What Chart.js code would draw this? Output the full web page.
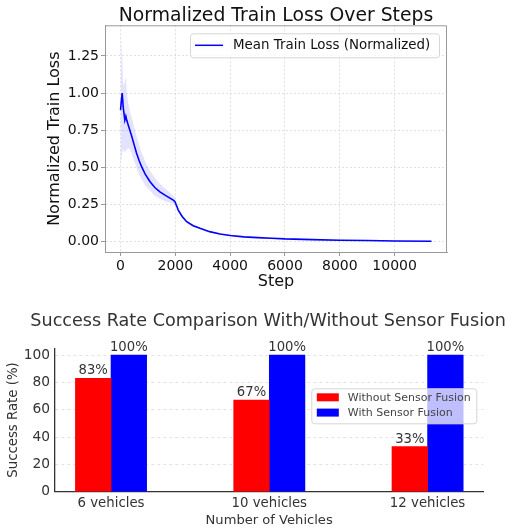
<!DOCTYPE html>
<html>
<head>
<meta charset="utf-8">
<script src="https://cdn.jsdelivr.net/npm/chart.js@4/dist/chart.umd.min.js"></script>
<style>
	html, body { margin: 0; padding: 0; background: #fff; }
	#wrap { position: relative; width: 512px; height: 529px; overflow: hidden; }
	canvas { position: absolute; left: 0; }
	#loss_chart { top: 0; }
	#rate_chart { top: 300px; }
</style>
</head>
<body>
<div id="wrap">
	<canvas id="loss_chart" width="512" height="300"></canvas>
	<canvas id="rate_chart" width="512" height="229"></canvas>
</div>
<script>
// Train loss (top chart)
const lossSteps = [0, 30, 60, 100, 157, 194, 230, 280, 340, 400, 500, 585, 680, 768, 900, 1071, 1250, 1437, 1650, 1924, 1985, 2050, 2106, 2250, 2413, 2650, 2900, 3250, 3630, 4000, 4500, 5000, 5500, 6000, 7000, 8000, 9000, 10000, 11345];
const lossMean  = [0.885, 0.95, 1.0, 0.90, 0.818, 0.845, 0.815, 0.785, 0.75, 0.715, 0.65, 0.595, 0.545, 0.505, 0.455, 0.405, 0.365, 0.335, 0.31, 0.28, 0.27, 0.24, 0.213, 0.17, 0.135, 0.108, 0.09, 0.068, 0.052, 0.042, 0.033, 0.028, 0.024, 0.019, 0.014, 0.010, 0.008, 0.005, 0.003];
const lossUpper = [0.90, 1.38, 1.25, 1.05, 1.08, 1.11, 1.00, 0.93, 0.88, 0.84, 0.77, 0.71, 0.65, 0.60, 0.54, 0.48, 0.43, 0.39, 0.355, 0.31, 0.295, 0.255, 0.225, 0.18, 0.143, 0.115, 0.096, 0.073, 0.056, 0.046, 0.036, 0.031, 0.027, 0.022, 0.017, 0.013, 0.011, 0.008, 0.006];
const lossLower = [0.50, 0.55, 0.60, 0.62, 0.60, 0.61, 0.62, 0.63, 0.62, 0.60, 0.54, 0.50, 0.45, 0.42, 0.38, 0.345, 0.31, 0.29, 0.27, 0.255, 0.248, 0.225, 0.20, 0.16, 0.127, 0.101, 0.084, 0.063, 0.048, 0.038, 0.030, 0.025, 0.021, 0.016, 0.011, 0.007, 0.005, 0.002, 0.000];
const lossTicksX = [0, 2000, 4000, 6000, 8000, 10000];
const lossTicksY = [0, 0.25, 0.5, 0.75, 1.0, 1.25];

// Success rate (bottom chart)
const vehicleLabels = ['6 vehicles', '10 vehicles', '12 vehicles'];
const rateWithout = [83, 67, 33];
const rateWith = [100, 100, 100];
const rateTicksY = [0, 20, 40, 60, 80, 100];

const FONT = "'DejaVu Sans', sans-serif";
Chart.defaults.font.family = FONT;
Chart.defaults.animation = false;

function toPoints(xs, ys) {
	return xs.map((x, i) => ({ x: x, y: ys[i] }));
}
function roundBox(ctx, x, y, w, h, r) {
	ctx.beginPath();
	ctx.moveTo(x + r, y);
	ctx.arcTo(x + w, y, x + w, y + h, r);
	ctx.arcTo(x + w, y + h, x, y + h, r);
	ctx.arcTo(x, y + h, x, y, r);
	ctx.arcTo(x, y, x + w, y, r);
	ctx.closePath();
}

// grey frame on top/right of the loss plot (left/bottom come from the axis borders)
const lossFrame = {
	id: 'lossFrame',
	afterDraw(chart) {
		const a = chart.chartArea, ctx = chart.ctx;
		ctx.save();
		ctx.strokeStyle = '#999';
		ctx.lineWidth = 1;
		ctx.beginPath();
		ctx.moveTo(a.left, a.top + 0.5);
		ctx.lineTo(a.right - 0.5, a.top + 0.5);
		ctx.lineTo(a.right - 0.5, a.bottom);
		ctx.stroke();
		ctx.restore();
	}
};

// legend box in the top right corner of the loss plot
const lossLegend = {
	id: 'lossLegend',
	afterDatasetsDraw(chart) {
		const a = chart.chartArea, ctx = chart.ctx;
		const ds = chart.data.datasets[2];
		const w = 249, h = 24;
		const x = a.right - 8 - w, y = a.top + 8;
		ctx.save();
		roundBox(ctx, x + 0.5, y + 0.5, w, h, 3);
		ctx.fillStyle = 'rgba(255,255,255,0.8)';
		ctx.fill();
		ctx.strokeStyle = '#d6d6d6';
		ctx.lineWidth = 1;
		ctx.stroke();
		ctx.beginPath();
		ctx.moveTo(x + 5, y + h / 2);
		ctx.lineTo(x + 33, y + h / 2);
		ctx.strokeStyle = ds.borderColor;
		ctx.lineWidth = 1.5;
		ctx.stroke();
		ctx.fillStyle = '#111';
		ctx.font = '13.4px ' + FONT;
		ctx.textBaseline = 'middle';
		ctx.fillText(ds.label, x + 43, y + h / 2 + 0.5);
		ctx.restore();
	}
};

new Chart(document.getElementById('loss_chart'), {
	type: 'line',
	data: {
		datasets: [
			{ // lower edge of the spread band
				data: toPoints(lossSteps, lossLower),
				borderColor: 'transparent',
				borderWidth: 0,
				pointRadius: 0,
				fill: false
			}, { // upper edge, filled down to the lower edge
				data: toPoints(lossSteps, lossUpper),
				borderColor: 'transparent',
				borderWidth: 0,
				pointRadius: 0,
				fill: '-1',
				backgroundColor: 'rgba(0, 0, 255, 0.11)'
			}, {
				label: 'Mean Train Loss (Normalized)',
				data: toPoints(lossSteps, lossMean),
				borderColor: '#0000ff',
				borderWidth: 1.6,
				pointRadius: 0,
				fill: false
			}
		]
	},
	options: {
		responsive: false,
		layout: { padding: { left: 0, right: 65, top: 0, bottom: 0 } },
		plugins: {
			legend: { display: false },
			tooltip: { enabled: false },
			title: {
				display: true,
				text: 'Normalized Train Loss Over Steps',
				fullSize: false,
				color: '#111',
				font: { size: 18.8, weight: 'normal', lineHeight: 1 },
				padding: { top: 6.5, bottom: 0 }
			}
		},
		scales: {
			x: {
				type: 'linear',
				min: -567,
				max: 11912,
				afterBuildTicks: (s) => { s.ticks = lossTicksX.map(v => ({ value: v })); },
				afterFit: (s) => { s.height = 48; },
				ticks: {
					color: '#111',
					font: { size: 14 },
					padding: 2,
					maxRotation: 0,
					callback: (v) => String(v)
				},
				grid: { color: '#d9d9d9', lineWidth: 0.8, tickColor: '#999', tickLength: 4, tickWidth: 1 },
				border: { color: '#999', width: 1, dash: [2, 2] },
				title: { display: true, text: 'Step', color: '#111', font: { size: 16 }, padding: { top: 0, bottom: 9 } }
			},
			y: {
				type: 'linear',
				min: -0.069,
				max: 1.456,
				afterBuildTicks: (s) => { s.ticks = lossTicksY.map(v => ({ value: v })); },
				afterFit: (s) => { s.width = 105; },
				ticks: {
					color: '#111',
					font: { size: 14 },
					padding: 2,
					callback: (v) => v.toFixed(2)
				},
				grid: { color: '#d9d9d9', lineWidth: 0.8, tickColor: '#999', tickLength: 4, tickWidth: 1 },
				border: { color: '#999', width: 1, dash: [2, 2] },
				title: { display: true, text: 'Normalized Train Loss', color: '#111', font: { size: 16 }, padding: { top: 45, bottom: 0 } }
			}
		}
	},
	plugins: [lossFrame, lossLegend]
});

// bottom chart title: wider than the plot, so drawn here instead of the title plugin (which squeezes it)
const rateTitle = {
	id: 'rateTitle',
	afterDraw(chart) {
		const a = chart.chartArea, ctx = chart.ctx;
		ctx.save();
		ctx.font = '17.6px ' + FONT;
		ctx.fillStyle = '#333';
		ctx.textAlign = 'center';
		ctx.textBaseline = 'alphabetic';
		ctx.fillText('Success Rate Comparison With/Without Sensor Fusion', (a.left + a.right) / 2 - 1, 26);
		ctx.restore();
	}
};

// percent labels above each bar
const barValueLabels = {
	id: 'barValueLabels',
	afterDatasetsDraw(chart) {
		const ctx = chart.ctx;
		ctx.save();
		ctx.font = '13.2px ' + FONT;
		ctx.fillStyle = '#333';
		ctx.textAlign = 'center';
		ctx.textBaseline = 'alphabetic';
		chart.data.datasets.forEach((ds, di) => {
			chart.getDatasetMeta(di).data.forEach((bar, i) => {
				ctx.fillText(`${ds.data[i].y}%`, bar.x, bar.y - 4);
			});
		});
		ctx.restore();
	}
};

// semi-transparent legend box, drawn over the bars like matplotlib does
const rateLegend = {
	id: 'rateLegend',
	afterDatasetsDraw(chart) {
		const a = chart.chartArea, ctx = chart.ctx;
		const w = 165, h = 35;
		const x = a.right - 7 - w, y = a.top + 40;
		ctx.save();
		roundBox(ctx, x + 0.5, y + 0.5, w, h, 3);
		ctx.fillStyle = 'rgba(255,255,255,0.75)';
		ctx.fill();
		ctx.strokeStyle = '#d6d6d6';
		ctx.lineWidth = 1;
		ctx.stroke();
		ctx.font = '11px ' + FONT;
		ctx.textBaseline = 'middle';
		chart.data.datasets.forEach((ds, i) => {
			const cy = y + 9 + i * 15.3;
			ctx.fillStyle = ds.backgroundColor;
			ctx.fillRect(x + 5.5, cy - 4, 22, 8);
			ctx.fillStyle = '#444';
			ctx.fillText(ds.label, x + 36.5, cy + 0.5);
		});
		ctx.restore();
	}
};

new Chart(document.getElementById('rate_chart'), {
	type: 'bar',
	data: {
		datasets: [
			{
				label: 'Without Sensor Fusion',
				data: vehicleLabels.map((_, i) => ({ x: i, y: rateWithout[i] })),
				backgroundColor: '#ff0000',
				barThickness: 35.6
			}, {
				label: 'With Sensor Fusion',
				data: vehicleLabels.map((_, i) => ({ x: i, y: rateWith[i] })),
				backgroundColor: '#0000ff',
				barThickness: 35.6
			}
		]
	},
	options: {
		responsive: false,
		layout: { padding: { left: 0, right: 28.7, top: 48.3, bottom: 0 } },
		plugins: {
			legend: { display: false },
			tooltip: { enabled: false },
			title: { display: false }
		},
		scales: {
			x: {
				type: 'linear',
				min: -0.354,
				max: 2.352,
				offset: false,
				afterBuildTicks: (s) => { s.ticks = vehicleLabels.map((_, i) => ({ value: i })); },
				afterFit: (s) => { s.height = 37.3; },
				ticks: {
					color: '#333',
					font: { size: 13.3 },
					padding: 4,
					maxRotation: 0,
					callback: (v) => vehicleLabels[v]
				},
				grid: { display: false, offset: false, drawTicks: false },
				border: { color: '#333', width: 1.3 },
				title: { display: true, text: 'Number of Vehicles', color: '#333', font: { size: 13.1 }, padding: { top: 0, bottom: 1 } }
			},
			y: {
				type: 'linear',
				min: 0,
				max: 105,
				afterBuildTicks: (s) => { s.ticks = rateTicksY.map(v => ({ value: v })); },
				afterFit: (s) => { s.width = 55; },
				ticks: {
					color: '#333',
					font: { size: 13.8 },
					padding: 5
				},
				grid: { color: '#dcdcdc', lineWidth: 0.8, drawTicks: false },
				border: { color: '#333', width: 1.3, dash: [3, 3] },
				title: { display: true, text: 'Success Rate (%)', color: '#333', font: { size: 13.3 }, padding: { top: 6, bottom: 0 } }
			}
		}
	},
	plugins: [rateTitle, barValueLabels, rateLegend]
});
</script>
</body>
</html>
